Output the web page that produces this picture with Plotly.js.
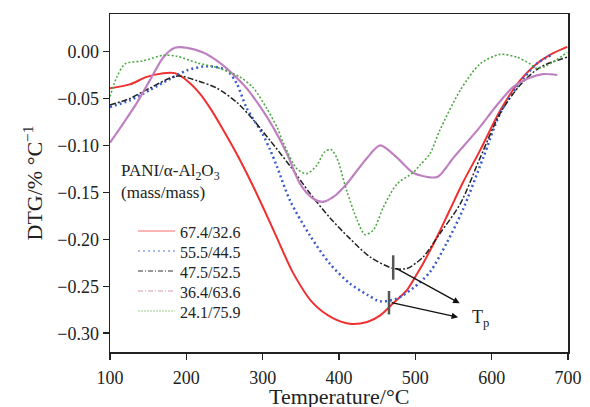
<!DOCTYPE html>
<html>
<head>
<meta charset="utf-8">
<script src="https://cdn.plot.ly/plotly-3.0.1.min.js"></script>
<style>html,body{margin:0;padding:0;background:#fff;}#chart{width:590px;height:407px;}</style>
</head>
<body>
<div id="chart"></div>
<script>
// Temperature (°C) and DTG (%/°C) per PANI/α-Al2O3 composition
const tRed = [100,126,148,170,185,201,218,231,248,268,283,300,319,340,366,392,414,437,454,471,489,502,510,528,545,562,585,611,637,659,680,699];
const dRed = [-0.039,-0.035,-0.027,-0.023,-0.023,-0.031,-0.045,-0.060,-0.083,-0.112,-0.136,-0.165,-0.199,-0.236,-0.268,-0.284,-0.290,-0.288,-0.281,-0.268,-0.254,-0.237,-0.226,-0.198,-0.169,-0.140,-0.105,-0.063,-0.031,-0.013,-0.002,0.005];

const tBlue = [100,126,152,179,201,222,235,253,266,279,300,310,319,336,362,388,414,437,454,476,497,519,541,562,589,611,633,659,680];
const dBlue = [-0.059,-0.052,-0.041,-0.029,-0.020,-0.016,-0.016,-0.020,-0.034,-0.060,-0.088,-0.105,-0.123,-0.159,-0.196,-0.226,-0.247,-0.259,-0.266,-0.263,-0.252,-0.235,-0.204,-0.169,-0.113,-0.066,-0.038,-0.013,-0.003];

const tBlack = [100,126,152,188,214,240,266,287,310,336,362,388,414,441,471,489,510,532,559,585,611,637,663,699];
const dBlack = [-0.057,-0.050,-0.039,-0.026,-0.031,-0.039,-0.054,-0.072,-0.095,-0.122,-0.151,-0.177,-0.199,-0.219,-0.231,-0.231,-0.219,-0.194,-0.162,-0.113,-0.066,-0.036,-0.017,-0.006];

const tPink = [100,117,135,152,170,185,201,222,244,261,279,297,314,332,349,365,379,394,410,437,454,476,497,519,530,550,581,607,628,650,667,686];
const dPink = [-0.097,-0.077,-0.055,-0.031,-0.006,0.004,0.004,-0.001,-0.012,-0.024,-0.039,-0.059,-0.081,-0.109,-0.141,-0.156,-0.160,-0.154,-0.141,-0.113,-0.100,-0.113,-0.129,-0.134,-0.133,-0.113,-0.084,-0.057,-0.038,-0.028,-0.024,-0.025];

const tGreen = [100,109,120,143,170,188,214,244,270,287,305,319,327,345,358,371,381,389,397,410,424,434,445,458,476,497,506,519,532,559,585,611,633,650,659,672,699];
const dGreen = [-0.048,-0.027,-0.013,-0.010,-0.004,-0.005,-0.012,-0.018,-0.027,-0.038,-0.060,-0.081,-0.097,-0.125,-0.130,-0.121,-0.107,-0.104,-0.113,-0.148,-0.180,-0.195,-0.190,-0.166,-0.141,-0.129,-0.121,-0.109,-0.084,-0.041,-0.013,-0.003,-0.006,-0.013,-0.018,-0.015,-0.001];

const seriesNames = ['67.4/32.6','55.5/44.5','47.5/52.5','36.4/63.6','24.1/75.9'];
const xTicks = [100,200,300,400,500,600,700];
const yTicks = [-0.30,-0.25,-0.20,-0.15,-0.10,-0.05,0.00];

const serif = '"Liberation Serif","Times New Roman",serif';

const styles = [
  {color:'#f03030', width:2, dash:'solid'},
  {color:'#3a5ccc', width:2.5, dash:'2px,3px'},
  {color:'#222222', width:1.5, dash:'6px,2px,2px,2px'},
  {color:'#c982cb', width:2.2, dash:'solid'},
  {color:'#4fa845', width:1.6, dash:'2px,2px'}
];
const legendStyles = [
  {color:'#f46a6a', width:1.2, dash:'solid'},
  {color:'#8ea2dd', width:1.6, dash:'2px,3px'},
  {color:'#333333', width:1, dash:'5px,2px,1px,2px'},
  {color:'#d59ab0', width:1.2, dash:'5px,2px,1px,2px'},
  {color:'#9acb8a', width:1.2, dash:'2px,1px'}
];
const xs = [tRed,tBlue,tBlack,tPink,tGreen];
const ys = [dRed,dBlue,dBlack,dPink,dGreen];

const traces = xs.map((x,i)=>({x:x, y:ys[i], name:seriesNames[i], mode:'lines', showlegend:false,
  line:{color:styles[i].color, width:styles[i].width, dash:styles[i].dash, shape:'spline', smoothing:0.8}}));
traces.push({x:tPink, y:dPink, mode:'lines', showlegend:false, hoverinfo:'skip',
  line:{color:'#888888', width:0.6, dash:'5px,2px,1px,2px', shape:'spline', smoothing:0.8}});

// plot area geometry (pixels) for placing the in-plot legend
const M = {l:110, r:22, t:14, b:55};
const W = 590, H = 407;
const pw = W - M.l - M.r, ph = H - M.t - M.b;
const px2x = p => (p - M.l) / pw;
const py2y = p => (H - M.b - p) / ph;

const shapes = [
  {type:'line', xref:'x', yref:'y', x0:471, x1:471, y0:-0.217, y1:-0.243, line:{color:'#555', width:2.5}},
  {type:'line', xref:'x', yref:'y', x0:465.5, x1:465.5, y0:-0.255, y1:-0.280, line:{color:'#555', width:2.5}}
];
const annotations = [
  {xref:'paper', yref:'paper', x:px2x(119), y:py2y(172), xanchor:'left', yanchor:'middle', showarrow:false,
   text:'PANI/α-Al<sub>2</sub>O<sub>3</sub>', font:{size:17, family:serif, color:'#222'}},
  {xref:'paper', yref:'paper', x:px2x(119), y:py2y(192), xanchor:'left', yanchor:'middle', showarrow:false,
   text:'(mass/mass)', font:{size:17, family:serif, color:'#222'}},
  {xref:'x', yref:'y', axref:'x', ayref:'y', x:558, y:-0.268, ax:473, ay:-0.230, text:'', showarrow:true,
   arrowhead:2, arrowsize:1, arrowwidth:1.3, arrowcolor:'#111'},
  {xref:'x', yref:'y', axref:'x', ayref:'y', x:556, y:-0.283, ax:467, ay:-0.267, text:'', showarrow:true,
   arrowhead:2, arrowsize:1, arrowwidth:1.3, arrowcolor:'#111'},
  {xref:'x', yref:'y', x:572, y:-0.284, xanchor:'left', yanchor:'middle', showarrow:false,
   text:'T<sub>p</sub>', font:{size:18, family:serif, color:'#222'}},
  // x-axis title (placed as annotation so it can sit at the very bottom edge like the original)
  {xref:'paper', yref:'paper', x:0.5, y:py2y(396), xanchor:'center', yanchor:'middle', showarrow:false,
   text:'Temperature/°C', font:{size:22, family:serif, color:'#222'}}
];
seriesNames.forEach((nm,i)=>{
  const rowY = 231 + i*20;
  shapes.push({type:'line', xref:'paper', yref:'paper', x0:px2x(138), x1:px2x(175), y0:py2y(rowY), y1:py2y(rowY),
    line:legendStyles[i]});
  annotations.push({xref:'paper', yref:'paper', x:px2x(178), y:py2y(rowY+1), xanchor:'left', yanchor:'middle', showarrow:false,
    text:nm, font:{size:16, family:serif, color:'#222'}});
});

const layout = {
  width:W, height:H,
  margin:M,
  paper_bgcolor:'#fff', plot_bgcolor:'#fff',
  font:{family:serif, color:'#222', size:18},
  showlegend:false,
  xaxis:{range:[100,700], tickvals:xTicks, ticktext:xTicks.map(String), ticks:'outside', ticklen:6, tickwidth:1.5, tickcolor:'#222',
         showline:true, linecolor:'#222', linewidth:1.5, mirror:true, showgrid:false, zeroline:false,
         tickfont:{size:18, family:serif}, ticklabelstandoff:3},
  yaxis:{range:[-0.32,0.04], tickvals:yTicks, ticktext:yTicks.map(v=>v===0?'0.00':'\u2212'+Math.abs(v).toFixed(2)), ticks:'outside', ticklen:6, tickwidth:1.5, tickcolor:'#222',
         showline:true, linecolor:'#222', linewidth:1.5, mirror:true, showgrid:false, zeroline:false,
         tickfont:{size:18, family:serif},
         title:{text:'DTG/% °C<sup>\u22121</sup>', font:{size:22, family:serif}, standoff:8}},
  shapes:shapes,
  annotations:annotations
};

Plotly.newPlot('chart', traces, layout, {staticPlot:true, displayModeBar:false});
</script>
</body>
</html>
